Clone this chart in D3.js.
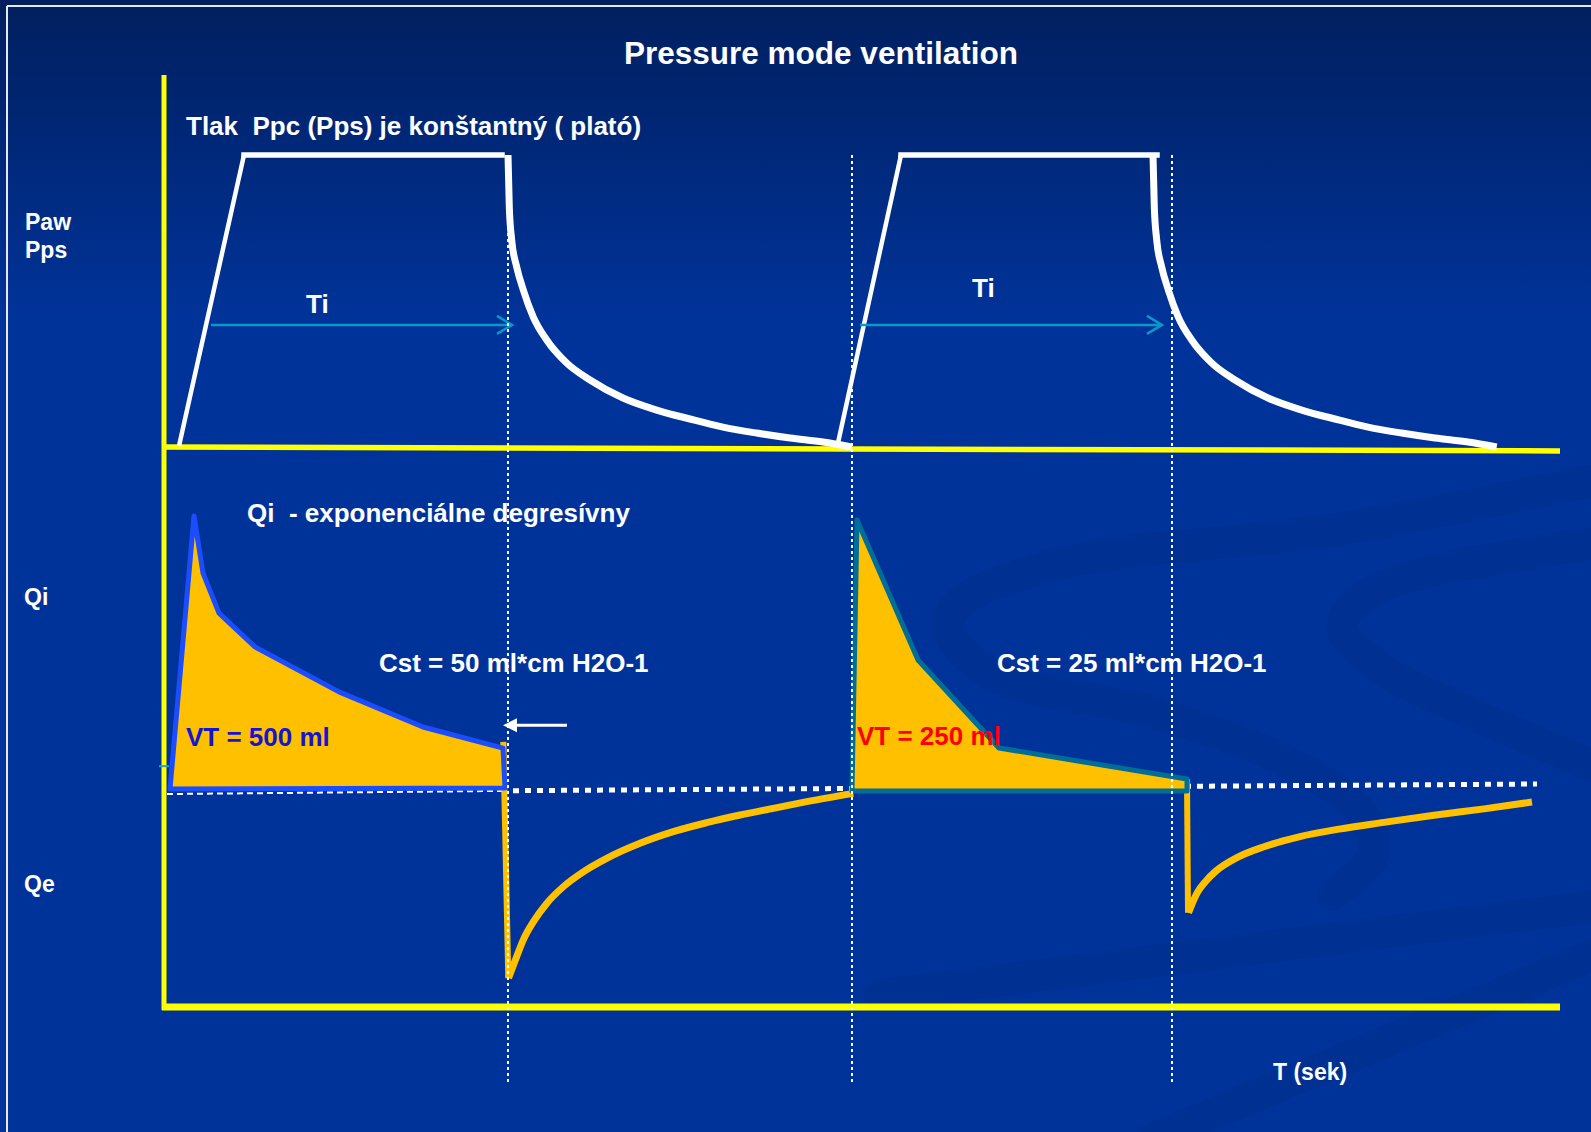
<!DOCTYPE html>
<html>
<head>
<meta charset="utf-8">
<script src="https://cdn.jsdelivr.net/npm/d3@7"></script>
<style>
  html, body { margin: 0; padding: 0; background: #003399; }
  svg { display: block; }
  text { font-family: "Liberation Sans", Arial, Helvetica, sans-serif; font-weight: bold; white-space: pre; }
</style>
</head>
<body>
<svg id="chart" width="1591" height="1132"></svg>
<script>
// ---------------- DATA (time in s, pressure in cmH2O, flow in L/min) ----------------
const timeDomain = [0, 14];
const pressureDomain = [0, 20];
const flowDomain = [0, 60];

// Breath 1 – pressure rise + plateau
const pressureRise1 = [[0.15, 0.14], [0.80, 20], [3.38, 20]];
// Breath 1 – passive expiration pressure decay
const pressureDecay1 = [[3.44, 20.0], [3.453, 16.45], [3.477, 14.20], [3.527, 12.36], [3.593, 10.79], [3.693, 8.94],
  [3.827, 7.37], [4.027, 5.80], [4.26, 4.64], [4.59, 3.41], [4.927, 2.59], [5.26, 1.98], [5.59, 1.43],
  [5.927, 1.02], [6.26, 0.68], [6.59, 0.41], [6.877, 0.07]];
// Breath 2 – pressure rise + plateau
const pressureRise2 = [[6.74, 0.34], [7.37, 20], [9.93, 20]];
// Breath 2 – pressure decay
const pressureDecay2 = [[9.89, 20.0], [9.903, 16.45], [9.927, 14.20], [9.977, 12.36], [10.043, 10.79], [10.143, 8.94],
  [10.277, 7.37], [10.477, 5.80], [10.71, 4.64], [11.04, 3.41], [11.377, 2.59], [11.71, 1.98], [12.04, 1.43],
  [12.377, 1.02], [12.71, 0.68], [13.04, 0.41], [13.327, 0.07]];

// Inspiratory flow, breath 1 (Cst = 50) – decelerating
const inspFlow1 = [[0.06, 0.22], [0.30, 60.9], [0.39, 48.2], [0.55, 39.3], [0.91, 31.8], [1.75, 21.8],
  [2.59, 14.0], [3.39, 9.3], [3.41, 0.44]];
// Inspiratory flow, breath 2 (Cst = 25)
const inspFlow2 = [[6.88, -0.22], [6.93, 60.0], [7.54, 28.9], [8.35, 9.33], [10.23, 2.44], [10.23, -0.22]];

// Expiratory flow, breath 1
const expDrop1 = [[3.393, 10.7], [3.443, -41.8]];
const expFlow1 = [[3.445, -41.8], [3.527, -37.0], [3.593, -33.3], [3.693, -29.3], [3.827, -25.2], [3.993, -21.5],
  [4.193, -18.2], [4.427, -15.2], [4.76, -11.85], [5.093, -9.26], [5.427, -7.26], [5.76, -5.56],
  [6.093, -4.07], [6.427, -2.59], [6.893, -0.74]];
// Expiratory flow, breath 2
const expDrop2 = [[10.23, 2.44], [10.24, -27.3]];
const expFlow2 = [[10.245, -27.3], [10.33, -22.9], [10.42, -20.2], [10.52, -18.0], [10.74, -14.9], [11.0, -12.6],
  [11.35, -10.4], [11.75, -8.7], [12.2, -7.2], [12.7, -5.6], [13.2, -4.2], [13.68, -2.67]];

// Zero-flow reference lines
const zeroFlowThin = [[0.03, -0.9], [3.41, -0.2]];
const zeroFlowDotted = [[3.49, -0.15], [13.73, 1.33]];
// Pressure baseline
const pressureBaseline = [[0, 0.07], [13.96, -0.2]];

// Event markers (end of expiration / inspiration), seconds
const eventTimes = [3.44, 6.88, 10.08];
// Ti arrows [start, end] at pressure level
const tiArrows = [{ from: 0.47, to: 3.48, level: 8.4 }, { from: 6.96, to: 9.98, level: 8.4 }];
const tiLabels = ["Ti", "Ti"];

// Background decorative swooshes (in time / flow units)
const decorBands = [
  [[14.4, 69.3], [11.69, 57.8], [8.97, 50.4], [7.93, 41.1], [7.84, 35.8], [8.29, 25.6], [9.88, 17.3], [11.24, 6.2], [11.97, -4.9], [12.10, -14.0], [11.69, -23.3]],
  [[14.4, 55.1], [12.15, 44.9], [11.78, 36.7], [12.15, 27.3], [13.05, 17.3], [14.4, 4.4]],
  [[7.16, -45.6], [14.4, -25.6]],
  [[9.86, -77.8], [14.4, -35.6]]
];

// ---------------- SCALES ----------------
const svg = d3.select("#chart");
const W = 1591, H = 1132;
const x = d3.scaleLinear().domain(timeDomain).range([164, 1564]);
const yP = d3.scaleLinear().domain(pressureDomain).range([448, 155]);
const yF = d3.scaleLinear().domain(flowDomain).range([790, 520]);

const lineP = d3.line().x(d => x(d[0])).y(d => yP(d[1]));
const lineF = d3.line().x(d => x(d[0])).y(d => yF(d[1]));
const curveP = d3.line().x(d => x(d[0])).y(d => yP(d[1])).curve(d3.curveMonotoneX);
const curveF = d3.line().x(d => x(d[0])).y(d => yF(d[1])).curve(d3.curveMonotoneX);
const smoothF = d3.line().x(d => x(d[0])).y(d => yF(d[1])).curve(d3.curveCatmullRom.alpha(0.5));

// ---------------- BACKGROUND ----------------
const defs = svg.append("defs");
const grad = defs.append("linearGradient").attr("id", "bg").attr("x1", 0).attr("y1", 0).attr("x2", 0).attr("y2", 1);
grad.append("stop").attr("offset", "0%").attr("stop-color", "#001f5e");
grad.append("stop").attr("offset", "28%").attr("stop-color", "#003399");
grad.append("stop").attr("offset", "100%").attr("stop-color", "#003399");
svg.append("rect").attr("width", W).attr("height", H).attr("fill", "url(#bg)");

svg.append("g").selectAll("path").data(decorBands).join("path")
  .attr("d", smoothF)
  .attr("fill", "none")
  .attr("stroke", "#00287d")
  .attr("stroke-opacity", 0.27)
  .attr("stroke-width", 32)
  .attr("stroke-linecap", "round");

// slide frame (top & left)
svg.append("line").attr("x1", 7).attr("y1", 6).attr("x2", W).attr("y2", 6)
  .attr("stroke", "#e8e8f0").attr("stroke-width", 2);
svg.append("line").attr("x1", 7).attr("y1", 6).attr("x2", 7).attr("y2", H)
  .attr("stroke", "#e8e8f0").attr("stroke-width", 2);

// ---------------- AXES ----------------
const yellow = "#ffff00";
svg.append("line").attr("x1", x(0)).attr("x2", x(0)).attr("y1", 75).attr("y2", 1010)
  .attr("stroke", yellow).attr("stroke-width", 5);
svg.append("path").attr("d", lineP(pressureBaseline)).attr("stroke", yellow).attr("stroke-width", 5.5).attr("fill", "none");
svg.append("line").attr("x1", x(0) - 2).attr("x2", x(13.96)).attr("y1", 1007).attr("y2", 1007)
  .attr("stroke", yellow).attr("stroke-width", 7);
// tiny cyan tick on the axis
svg.append("line").attr("x1", x(-0.05)).attr("x2", x(0.05)).attr("y1", yF(5.3)).attr("y2", yF(5.3))
  .attr("stroke", "#22a0c8").attr("stroke-width", 2);

// ---------------- PRESSURE ----------------
[pressureRise1, pressureRise2].forEach(d => {
  svg.append("path").attr("d", lineP(d.slice(0, 2))).attr("fill", "none").attr("stroke", "#fff").attr("stroke-width", 4.5);
  svg.append("path").attr("d", lineP(d.slice(1))).attr("fill", "none").attr("stroke", "#fff").attr("stroke-width", 5.5)
    .attr("stroke-linecap", "square");
});
[pressureDecay1, pressureDecay2].forEach(d => {
  svg.append("path").attr("d", curveP(d)).attr("fill", "none").attr("stroke", "#fff").attr("stroke-width", 7)
    .attr("stroke-linejoin", "round");
});

// Ti arrows
const tiColor = "#0a98cc";
tiArrows.forEach((a) => {
  const yy = yP(a.level);
  svg.append("line").attr("x1", x(a.from)).attr("x2", x(a.to)).attr("y1", yy).attr("y2", yy)
    .attr("stroke", tiColor).attr("stroke-width", 2.5);
  svg.append("path")
    .attr("d", `M${x(a.to) - 15},${yy - 9}L${x(a.to)},${yy}L${x(a.to) - 15},${yy + 9}`)
    .attr("fill", "none").attr("stroke", tiColor).attr("stroke-width", 2.5);
});

// ---------------- FLOW ----------------
svg.append("path").attr("d", lineF(zeroFlowThin)).attr("fill", "none").attr("stroke", "#fff")
  .attr("stroke-width", 2).attr("stroke-dasharray", "6 4");
svg.append("path").attr("d", lineF(zeroFlowDotted)).attr("fill", "none").attr("stroke", "#fff")
  .attr("stroke-width", 5).attr("stroke-dasharray", "6 6");

const orange = "#ffc000";
[[expDrop1, expFlow1], [expDrop2, expFlow2]].forEach(([drop, flow]) => {
  svg.append("path").attr("d", lineF(drop)).attr("fill", "none").attr("stroke", orange).attr("stroke-width", 6);
  svg.append("path").attr("d", curveF(flow)).attr("fill", "none").attr("stroke", orange).attr("stroke-width", 7)
    .attr("stroke-linecap", "butt");
});

svg.append("path").attr("d", lineF(inspFlow1) + "Z").attr("fill", orange)
  .attr("stroke", "#1b4dff").attr("stroke-width", 5).attr("stroke-linejoin", "round");
svg.append("path").attr("d", lineF(inspFlow2) + "Z").attr("fill", orange)
  .attr("stroke", "#006e96").attr("stroke-width", 5).attr("stroke-linejoin", "round");

// white arrow pointing to end of inspiration
const arrowY = yF(14.4);
svg.append("line").attr("x1", x(3.52)).attr("x2", x(4.03)).attr("y1", arrowY).attr("y2", arrowY)
  .attr("stroke", "#fff").attr("stroke-width", 3);
svg.append("path").attr("d", `M${x(3.39)},${arrowY}L${x(3.53)},${arrowY - 7}L${x(3.53)},${arrowY + 7}Z`).attr("fill", "#fff");

// ---------------- LABELS ----------------
const labels = [
  { t: "Pressure mode ventilation", x: 624, y: 64, s: 31.5, c: "#fff" },
  { t: "Tlak  Ppc (Pps) je konštantný ( plató)", x: 186, y: 135, s: 26, c: "#fff" },
  { t: "Paw", x: 25, y: 230, s: 23, c: "#fff" },
  { t: "Pps", x: 25, y: 258, s: 23, c: "#fff" },
  { t: "Qi  - exponenciálne degresívny", x: 247, y: 522, s: 26, c: "#fff" },
  { t: "Qi", x: 24, y: 605, s: 23, c: "#fff" },
  { t: "Cst = 50 ml*cm H2O-1", x: 379, y: 672, s: 26, c: "#fff" },
  { t: "VT = 500 ml", x: 186, y: 746, s: 26, c: "#1414d2" },
  { t: "Cst = 25 ml*cm H2O-1", x: 997, y: 672, s: 26, c: "#fff" },
  { t: "VT = 250 ml", x: 857, y: 745, s: 26, c: "#ff0000" },
  { t: "Qe", x: 24, y: 892, s: 23, c: "#fff" },
  { t: "T (sek)", x: 1273, y: 1080, s: 23, c: "#fff" }
];
svg.append("g").selectAll("text").data(labels).join("text")
  .attr("x", d => d.x).attr("y", d => d.y)
  .attr("font-size", d => d.s).attr("fill", d => d.c)
  .text(d => d.t);

const tiPos = [{ x: 306, y: 313 }, { x: 972, y: 297 }];
svg.append("g").selectAll("text").data(tiLabels).join("text")
  .attr("x", (d, i) => tiPos[i].x).attr("y", (d, i) => tiPos[i].y)
  .attr("font-size", 26).attr("fill", "#fff").text(d => d);

// event markers (dotted verticals, on top)
svg.append("g").selectAll("line").data(eventTimes).join("line")
  .attr("x1", d => x(d)).attr("x2", d => x(d))
  .attr("y1", yP(20)).attr("y2", 1084)
  .attr("stroke", "#fff").attr("stroke-width", 2).attr("stroke-dasharray", "3 3");
</script>
</body>
</html>
